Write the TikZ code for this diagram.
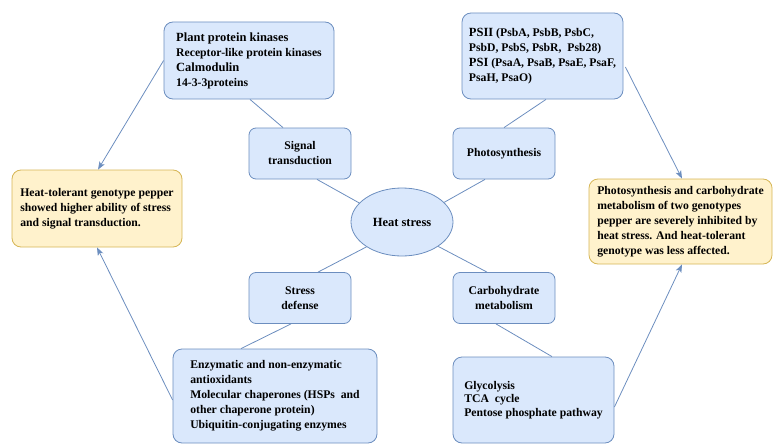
\documentclass[tikz,border=0pt]{standalone}
\usepackage{fontspec}
\setmainfont{Liberation Serif}
\usetikzlibrary{arrows.meta,shapes.geometric}
\definecolor{bfill}{HTML}{DAE8FC}
\definecolor{bline}{HTML}{6C8EBF}
\definecolor{yfill}{HTML}{FFF2CC}
\definecolor{yline}{HTML}{D6B656}
\newcommand{\bigf}{\fontsize{12.5}{15}\selectfont}
\newcommand{\smf}{\fontsize{11.7}{15}\selectfont}
\begin{document}
\begin{tikzpicture}[x=1pt,y=-1pt,
  bluebox/.style={draw=bline,fill=bfill,line width=0.8pt,rounded corners=9pt,align=left,inner sep=0pt,font=\bfseries\smf},
  smallbox/.style={draw=bline,fill=bfill,line width=0.8pt,rounded corners=7pt,align=center,inner sep=0pt,minimum width=102pt,minimum height=51pt,font=\bfseries\smf},
  yellowbox/.style={draw=yline,fill=yfill,line width=0.8pt,rounded corners=9pt,align=left,inner sep=0pt,font=\bfseries\smf},
  link/.style={draw=bline,line width=0.8pt},
  arr/.style={draw=bline,line width=0.8pt,-{Stealth[length=8pt,width=6pt,inset=2pt]}}
]
\useasboundingbox (0,0) rectangle (773,444);

% central ellipse
\node[ellipse,draw=bline,fill=bfill,line width=0.8pt,minimum width=102pt,minimum height=68pt,inner sep=0pt,font=\bfseries\bigf] (heat) at (402,222) {Heat stress};

% small boxes
\node[smallbox] (sig) at (300,153.5) {Signal\\transduction};
\node[smallbox] (pho) at (504,153.5) {Photosynthesis};
\node[smallbox] (str) at (300,298) {Stress\\defense};
\node[smallbox] (carb) at (504,298) {Carbohydrate\\metabolism};

% detail boxes
\node[bluebox,minimum width=170pt,minimum height=77pt] (kin) at (249,60.5)
  {{\bigf Plant protein kinases}\\Receptor-like protein kinases\\{\bigf Calmodulin}\\14-3-3proteins};
\node[bluebox,minimum width=161pt,minimum height=86pt] (ps) at (542.5,56)
  {{\bigf PSII} (PsbA, PsbB, PsbC,\\PsbD, PsbS, PsbR,\ \ Psb28)\\{\bigf PSI} (PsaA, PsaB, PsaE, PsaF,\\PsaH, PsaO)};
\node[bluebox,minimum width=204pt,minimum height=94pt] (def) at (275,396)
  {Enzymatic and non-enzymatic\\antioxidants\\Molecular chaperones (HSPs\ \ and\\other chaperone protein)\\Ubiquitin-conjugating enzymes};
\node[bluebox,minimum width=161pt,minimum height=86pt,font=\bfseries\fontsize{11.7}{13.7}\selectfont] (gly) at (533.5,400)
  {Glycolysis\\TCA\ \ cycle\\Pentose phosphate pathway};

% conclusion boxes
\node[yellowbox,minimum width=170pt,minimum height=77pt] (left) at (97,208.5)
  {Heat-tolerant genotype pepper\\showed higher ability of stress\\and signal transduction.};
\node[yellowbox,minimum width=183pt,minimum height=85pt] (right) at (680.5,221.5)
  {Photosynthesis and carbohydrate\\metabolism of two genotypes\\pepper are severely inhibited by\\heat stress. And heat-tolerant\\genotype was less affected.};

% connectors
\draw[link] ([xshift=1pt]kin.south) -- ([xshift=-17pt]sig.north);
\draw[link] ([xshift=17pt]sig.south) -- (heat.156);
\draw[link] ([xshift=3.5pt]ps.south) -- (pho.north);
\draw[link] ([xshift=-19pt]pho.south) -- (heat.25);
\draw[link] (heat.215) -- ([xshift=18pt]str.north);
\draw[link] ([xshift=-9pt]str.south) -- ([xshift=-34pt]def.north);
\draw[link] (heat.-34) -- ([xshift=-17pt]carb.north);
\draw[link] ([xshift=-8pt]carb.south) -- ([xshift=18.5pt]gly.north);

% arrows
\draw[arr] (kin.west) -- ([xshift=1pt]left.north);
\draw[arr] ([yshift=-4pt]def.west) -- (left.south);
\draw[arr] ([xshift=2pt,yshift=-11pt]ps.east) -- ([xshift=1.5pt]right.north);
\draw[arr] ([yshift=-7pt]gly.east) -- ([xshift=1.5pt]right.south);
\end{tikzpicture}
\end{document}
